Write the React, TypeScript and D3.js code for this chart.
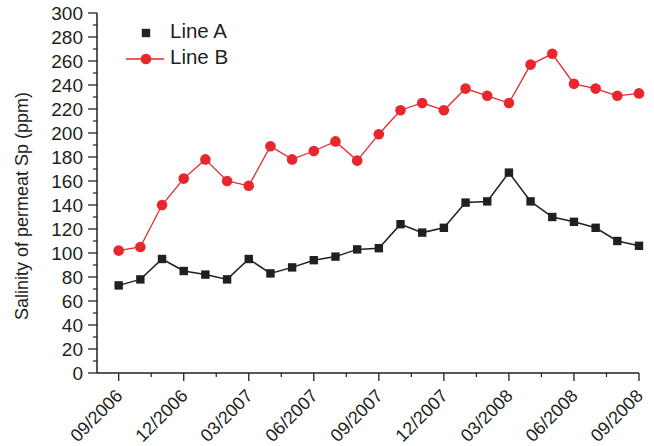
import React from "react";
import * as d3 from "d3";

// Monthly sampling from 09/2006 to 09/2008
const months = [
  "09/2006", "10/2006", "11/2006", "12/2006", "01/2007", "02/2007", "03/2007",
  "04/2007", "05/2007", "06/2007", "07/2007", "08/2007", "09/2007", "10/2007",
  "11/2007", "12/2007", "01/2008", "02/2008", "03/2008", "04/2008", "05/2008",
  "06/2008", "07/2008", "08/2008", "09/2008",
];
const lineA = [73, 78, 95, 85, 82, 78, 95, 83, 88, 94, 97, 103, 104, 124, 117, 121, 142, 143, 167, 143, 130, 126, 121, 110, 106];
const lineB = [102, 105, 140, 162, 178, 160, 156, 189, 178, 185, 193, 177, 199, 219, 225, 219, 237, 231, 225, 257, 266, 241, 237, 231, 233];
const xTickLabels = ["09/2006", "12/2006", "03/2007", "06/2007", "09/2007", "12/2007", "03/2008", "06/2008", "09/2008"];
const seriesNames = ["Line A", "Line B"];
const yLabel = "Salinity of permeat Sp (ppm)";

const W = 654;
const H = 446;
const left = 97;
const right = 639;
const top = 13;
const bottom = 373;

const ink = "#231f20";
const red = "#e8262e";
const font = "'Liberation Sans', Arial, sans-serif";

export default function App() {
  const x = d3.scaleLinear().domain([-1, months.length - 1]).range([left, right]);
  const y = d3.scaleLinear().domain([0, 300]).range([bottom, top]);

  const line = d3
    .line<number>()
    .x((_, i) => x(i))
    .y((d) => y(d));

  const majorX = xTickLabels.map((lab) => months.indexOf(lab));
  const minorX = majorX.slice(0, -1).map((v) => v + 1.5);
  const majorY = d3.range(0, 301, 20);
  const minorY = d3.range(10, 300, 20);

  return (
    <svg
      width={W}
      height={H}
      style={{ position: "absolute", left: 0, top: 0, background: "#fff" }}
      fontFamily={font}
    >
      {/* Y axis */}
      <line x1={left} x2={left} y1={top} y2={bottom} stroke={ink} strokeWidth={1.5} />
      {majorY.map((v) => (
        <g key={"my" + v}>
          <line x1={left - 9} x2={left} y1={y(v)} y2={y(v)} stroke={ink} strokeWidth={1.3} />
          <text x={83} y={y(v)} dy="0.36em" textAnchor="end" fontSize={19} fill={ink}>
            {v}
          </text>
        </g>
      ))}
      {minorY.map((v) => (
        <line key={"ny" + v} x1={left - 4} x2={left} y1={y(v)} y2={y(v)} stroke={ink} strokeWidth={1.2} />
      ))}
      <text
        transform={`translate(28, 206) rotate(-90)`}
        textAnchor="middle"
        fontSize={18}
        fill={ink}
      >
        {yLabel}
      </text>

      {/* X axis */}
      <line x1={left} x2={right} y1={bottom} y2={bottom} stroke={ink} strokeWidth={1.5} />
      {majorX.map((i, k) => (
        <g key={"mx" + i}>
          <line x1={x(i)} x2={x(i)} y1={bottom} y2={bottom + 8} stroke={ink} strokeWidth={1.3} />
          <text
            transform={`translate(${x(i) + 5}, ${bottom + 24}) rotate(-45)`}
            textAnchor="end"
            fontSize={18}
            fill={ink}
          >
            {xTickLabels[k]}
          </text>
        </g>
      ))}
      {minorX.map((i) => (
        <line key={"nx" + i} x1={x(i)} x2={x(i)} y1={bottom} y2={bottom + 4} stroke={ink} strokeWidth={1.2} />
      ))}

      {/* Line B */}
      <path d={line(lineB) ?? ""} fill="none" stroke={red} strokeWidth={1.3} />
      {lineB.map((v, i) => (
        <circle key={"b" + i} cx={x(i)} cy={y(v)} r={5.3} fill={red} />
      ))}

      {/* Line A */}
      <path d={line(lineA) ?? ""} fill="none" stroke={ink} strokeWidth={1.5} />
      {lineA.map((v, i) => (
        <rect key={"a" + i} x={x(i) - 4.2} y={y(v) - 4.2} width={8.4} height={8.4} fill={ink} />
      ))}

      {/* Legend */}
      <rect x={146 - 4.2} y={33 - 4.2} width={8.4} height={8.4} fill={ink} />
      <text x={170} y={38} fontSize={20.5} fill={ink}>
        {seriesNames[0]}
      </text>
      <line x1={126} x2={164} y1={59} y2={59} stroke={red} strokeWidth={1.3} />
      <circle cx={146} cy={59} r={5.3} fill={red} />
      <text x={170} y={64} fontSize={20.5} fill={ink}>
        {seriesNames[1]}
      </text>
    </svg>
  );
}
